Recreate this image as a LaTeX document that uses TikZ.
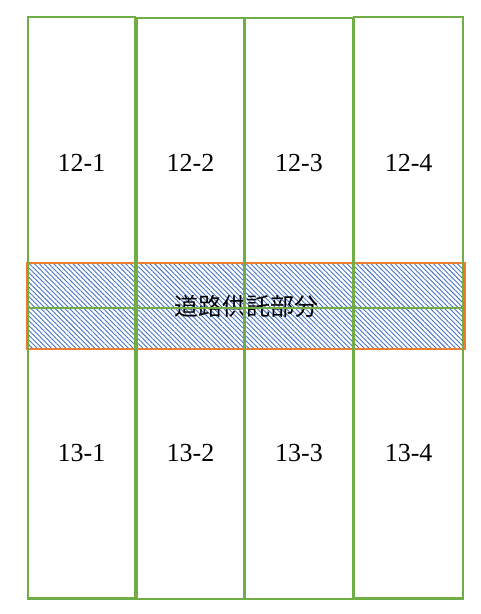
\documentclass[tikz,border=0pt]{standalone}
\usepackage{fontspec}
\setmainfont{Liberation Serif}
\newfontfamily\jpfont{Noto Sans CJK JP}
\usetikzlibrary{patterns.meta}
\definecolor{lotgreen}{HTML}{70AD47}
\definecolor{roadorange}{HTML}{ED7D31}
\definecolor{hatchblue}{HTML}{4472C4}

\begin{document}
\begin{tikzpicture}
[x=1pt, y=-1pt, lot/.style={draw=lotgreen, line width=2.4pt, inner sep=0pt, outer sep=0pt, minimum width=107pt, minimum height=290pt, font=\fontsize{26}{26}\selectfont}, road/.style={draw=roadorange, line width=2.4pt, inner sep=0pt, outer sep=0pt, pattern={Lines[angle=-45, distance=3.4pt, line width=0.9pt]}, pattern color=hatchblue, font=\jpfont\fontsize{24}{24}\selectfont}]
    \useasboundingbox (0,0) rectangle (480,614);
    \node[road, minimum width=437pt, minimum height=86pt] (road) at (246,306) {道路供託部分};
    \node[lot, minimum height=291pt] (lot12-1) at (81.5,162.5) {12-1};
    \node[lot, minimum width=108pt] (lot12-2) at (190.5,163) {12-2};
    \node[lot, minimum width=109pt] (lot12-3) at (299,163) {12-3};
    \node[lot, minimum width=109pt, minimum height=291pt] (lot12-4) at (408.6,162.5) {12-4};
    \node[lot, minimum height=290.5pt] (lot13-1) at (81.5,453.25) {13-1};
    \node[lot, minimum width=108pt, minimum height=291pt] (lot13-2) at (190.5,453.5) {13-2};
    \node[lot, minimum width=109pt, minimum height=291pt] (lot13-3) at (299,453.5) {13-3};
    \node[lot, minimum width=109pt, minimum height=290.5pt] (lot13-4) at (408.6,453.25) {13-4};
\end{tikzpicture}
\end{document}
